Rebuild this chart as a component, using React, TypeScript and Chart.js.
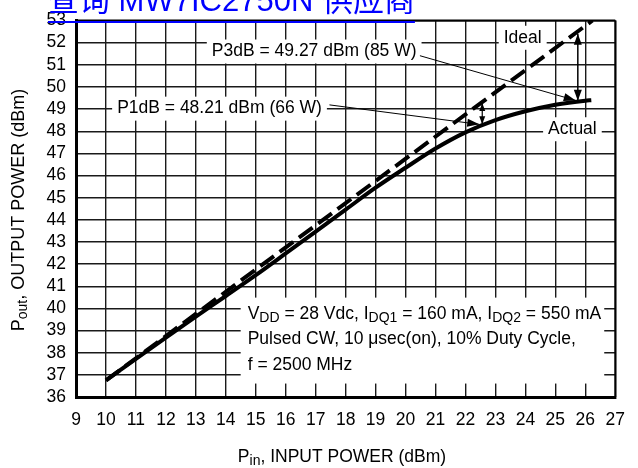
import React, { useEffect, useRef } from "react";
import { Chart, registerables } from "chart.js";

Chart.register(...registerables);

// ---------- data ----------
const inputPower = [10, 11, 12, 13, 14, 15, 16, 17, 18, 19, 20, 21, 22, 23, 24, 25, 26, 26.2];
const actualOutput = [36.75, 37.72, 38.68, 39.63, 40.56, 41.5, 42.48, 43.47, 44.46, 45.45, 46.35, 47.22, 47.95, 48.5, 48.9, 49.2, 49.38, 49.4];
const idealInput = [10, 26.24];
const idealOutput = [36.75, 53.0];

const xMin = 9;
const xMax = 27;
const yMin = 36;
const yMax = 53;

const p1dbLabel = "P1dB = 48.21 dBm (66 W)";
const p3dbLabel = "P3dB = 49.27 dBm (85 W)";
const idealLabel = "Ideal";
const actualLabel = "Actual";
const headerText = "查询 MW7IC2750N 供应商";

type Seg = { t: string; sub?: boolean };
const xTitle: Seg[] = [{ t: "P" }, { t: "in", sub: true }, { t: ", INPUT POWER (dBm)" }];
const yTitle: Seg[] = [{ t: "P" }, { t: "out", sub: true }, { t: ", OUTPUT POWER (dBm)" }];
const condLine1: Seg[] = [
  { t: "V" }, { t: "DD", sub: true }, { t: " = 28 Vdc, I" }, { t: "DQ1", sub: true },
  { t: " = 160 mA, I" }, { t: "DQ2", sub: true }, { t: " = 550 mA" },
];
const condLine2: Seg[] = [{ t: "Pulsed CW, 10 \u03bcsec(on), 10% Duty Cycle," }];
const condLine3: Seg[] = [{ t: "f = 2500 MHz" }];

const FONT = "'Liberation Sans', Arial, Helvetica, sans-serif";

function fonts(size: number) {
  return { main: `${size}px ${FONT}`, sub: `${Math.round(size * 0.8)}px ${FONT}` };
}

function richWidth(ctx: CanvasRenderingContext2D, segs: Seg[], size: number) {
  const f = fonts(size);
  let w = 0;
  for (const s of segs) {
    ctx.font = s.sub ? f.sub : f.main;
    w += ctx.measureText(s.t).width;
  }
  return w;
}

function drawRich(ctx: CanvasRenderingContext2D, segs: Seg[], x: number, y: number, align: "left" | "center", size: number) {
  const f = fonts(size);
  const w = richWidth(ctx, segs, size);
  let cx = align === "center" ? x - w / 2 : x;
  ctx.textAlign = "left";
  ctx.textBaseline = "middle";
  for (const s of segs) {
    ctx.font = s.sub ? f.sub : f.main;
    ctx.fillText(s.t, cx, y + (s.sub ? 4 : 0));
    cx += ctx.measureText(s.t).width;
  }
  return w;
}

function arrowHead(ctx: CanvasRenderingContext2D, fx: number, fy: number, tx: number, ty: number, len: number, half: number) {
  const a = Math.atan2(ty - fy, tx - fx);
  ctx.beginPath();
  ctx.moveTo(tx, ty);
  ctx.lineTo(tx - len * Math.cos(a) + half * Math.sin(a), ty - len * Math.sin(a) - half * Math.cos(a));
  ctx.lineTo(tx - len * Math.cos(a) - half * Math.sin(a), ty - len * Math.sin(a) + half * Math.cos(a));
  ctx.closePath();
  ctx.fill();
}

function line(ctx: CanvasRenderingContext2D, x1: number, y1: number, x2: number, y2: number, w: number) {
  ctx.lineWidth = w;
  ctx.beginPath();
  ctx.moveTo(x1, y1);
  ctx.lineTo(x2, y2);
  ctx.stroke();
}

const annotationPlugin = {
  id: "annots",
  beforeDatasetsDraw(chart: any) {
    const ctx: CanvasRenderingContext2D = chart.ctx;
    const sx = chart.scales.x, sy = chart.scales.y;
    const X = (v: number) => sx.getPixelForValue(v);
    const Y = (v: number) => sy.getPixelForValue(v);
    ctx.save();
    const labels: [string, number, number][] = [
      [p3dbLabel, 16.95, 51.6],
      [idealLabel, 23.91, 52.22],
      [p1dbLabel, 13.79, 49.02],
      [actualLabel, 25.57, 48.09],
    ];
    for (const [t, vx, vy] of labels) {
      ctx.font = fonts(17.5).main;
      const w = ctx.measureText(t).width;
      const cx = X(vx), cy = Y(vy);
      ctx.fillStyle = "#fff";
      ctx.fillRect(cx - w / 2 - 5, cy - 12, w + 10, 24);
      ctx.fillStyle = "#000";
      ctx.textAlign = "center";
      ctx.textBaseline = "middle";
      ctx.fillText(t, cx, cy);
    }
    // conditions box
    const lx = X(14.73);
    const y1 = Y(39.72), y2 = Y(38.59), y3 = Y(37.42);
    const w1 = richWidth(ctx, condLine1, 17.5);
    ctx.fillStyle = "#fff";
    ctx.fillRect(lx - 7, y1 - 17, w1 + 10, y3 - y1 + 35);
    ctx.fillStyle = "#000";
    drawRich(ctx, condLine1, lx, y1, "left", 17.5);
    drawRich(ctx, condLine2, lx, y2, "left", 17.5);
    drawRich(ctx, condLine3, lx, y3, "left", 17.5);
    ctx.restore();
  },
  afterDatasetsDraw(chart: any) {
    const ctx: CanvasRenderingContext2D = chart.ctx;
    const sx = chart.scales.x, sy = chart.scales.y;
    const X = (v: number) => sx.getPixelForValue(v);
    const Y = (v: number) => sy.getPixelForValue(v);
    ctx.save();
    ctx.strokeStyle = "#000";
    ctx.fillStyle = "#000";
    // P1dB arrow
    let ax = X(17.46), ay = Y(49.19), bx = X(22.46), by = Y(48.31);
    line(ctx, ax, ay, bx, by, 1);
    arrowHead(ctx, ax, ay, bx, by, 12, 4);
    // P3dB arrow
    ax = X(20.48); ay = Y(51.41); bx = X(25.68); by = Y(49.39);
    line(ctx, ax, ay, bx, by, 1);
    arrowHead(ctx, ax, ay, bx, by, 12, 4);
    // small double arrow (1 dB)
    ax = X(22.56); ay = Y(49.28); by = Y(48.31);
    line(ctx, ax, ay, ax, by, 1.2);
    arrowHead(ctx, ax, by, ax, ay, 8, 3);
    arrowHead(ctx, ax, ay, ax, by, 8, 3);
    // large double arrow (3 dB)
    ax = X(25.75); ay = Y(52.4); by = Y(49.38);
    line(ctx, ax, ay, ax, by, 1.5);
    arrowHead(ctx, ax, by, ax, ay, 11, 4);
    arrowHead(ctx, ax, ay, ax, by, 11, 4);
    ctx.restore();
  },
  afterDraw(chart: any) {
    const ctx: CanvasRenderingContext2D = chart.ctx;
    const a = chart.chartArea;
    ctx.save();
    ctx.strokeStyle = "#000";
    line(ctx, a.left, a.top, a.right, a.top, 2);
    line(ctx, a.right, a.top, a.right, a.bottom, 2);
    ctx.fillStyle = "#000";
    drawRich(ctx, xTitle, 342, 457, "center", 17.5);
    ctx.save();
    ctx.translate(19, 210);
    ctx.rotate(-Math.PI / 2);
    drawRich(ctx, yTitle, 0, 0, "center", 18);
    ctx.restore();
    // header link
    ctx.font = `31px 'Liberation Sans', 'Noto Sans CJK SC', sans-serif`;
    ctx.fillStyle = "#0000ff";
    ctx.textAlign = "left";
    ctx.textBaseline = "alphabetic";
    ctx.fillText(headerText, 48, 11);
    const hw = ctx.measureText(headerText).width;
    ctx.fillRect(48, 21, hw, 2);
    ctx.restore();
  },
};

export default function App() {
  const ref = useRef<HTMLCanvasElement>(null);
  useEffect(() => {
    if (!ref.current) return;
    const chart = new Chart(ref.current, {
      type: "scatter",
      data: {
        datasets: [
          {
            label: "Actual",
            data: inputPower.map((x, i) => ({ x, y: actualOutput[i] })),
            showLine: true,
            borderColor: "#000",
            borderWidth: 4,
            pointRadius: 0,
            cubicInterpolationMode: "monotone",
          },
          {
            label: "Ideal",
            data: idealInput.map((x, i) => ({ x, y: idealOutput[i] })),
            showLine: true,
            borderColor: "#000",
            borderWidth: 4,
            borderDash: [17, 7],
            pointRadius: 0,
          },
        ],
      },
      options: {
        animation: false,
        responsive: false,
        layout: { padding: { top: 13, right: 15, left: 0, bottom: 0 } },
        plugins: { legend: { display: false }, tooltip: { enabled: false } },
        scales: {
          x: {
            type: "linear",
            min: xMin,
            max: xMax,
            afterFit: (s: any) => { s.height = 71; },
            ticks: { stepSize: 1, color: "#000", font: { family: FONT, size: 17.5 }, padding: 13, maxRotation: 0, autoSkip: false, callback: (v: any) => String(v) },
            grid: { color: "#1a1a1a", lineWidth: 1.4, drawTicks: false },
            border: { color: "#000", width: 3 },
          },
          y: {
            type: "linear",
            min: yMin,
            max: yMax,
            afterFit: (s: any) => { s.width = 76; },
            ticks: { stepSize: 1, color: "#000", font: { family: FONT, size: 17.5 }, padding: 10, autoSkip: false, callback: (v: any) => String(v) },
            grid: { color: "#1a1a1a", lineWidth: 1.4, drawTicks: false },
            border: { color: "#000", width: 3 },
          },
        },
      },
      plugins: [annotationPlugin],
    });
    return () => chart.destroy();
  }, []);
  return (
    <div style={{ position: "absolute", left: 0, top: 0, width: 638, height: 468, background: "#fff" }}>
      <canvas ref={ref} width={638} height={468} style={{ display: "block" }} />
    </div>
  );
}
